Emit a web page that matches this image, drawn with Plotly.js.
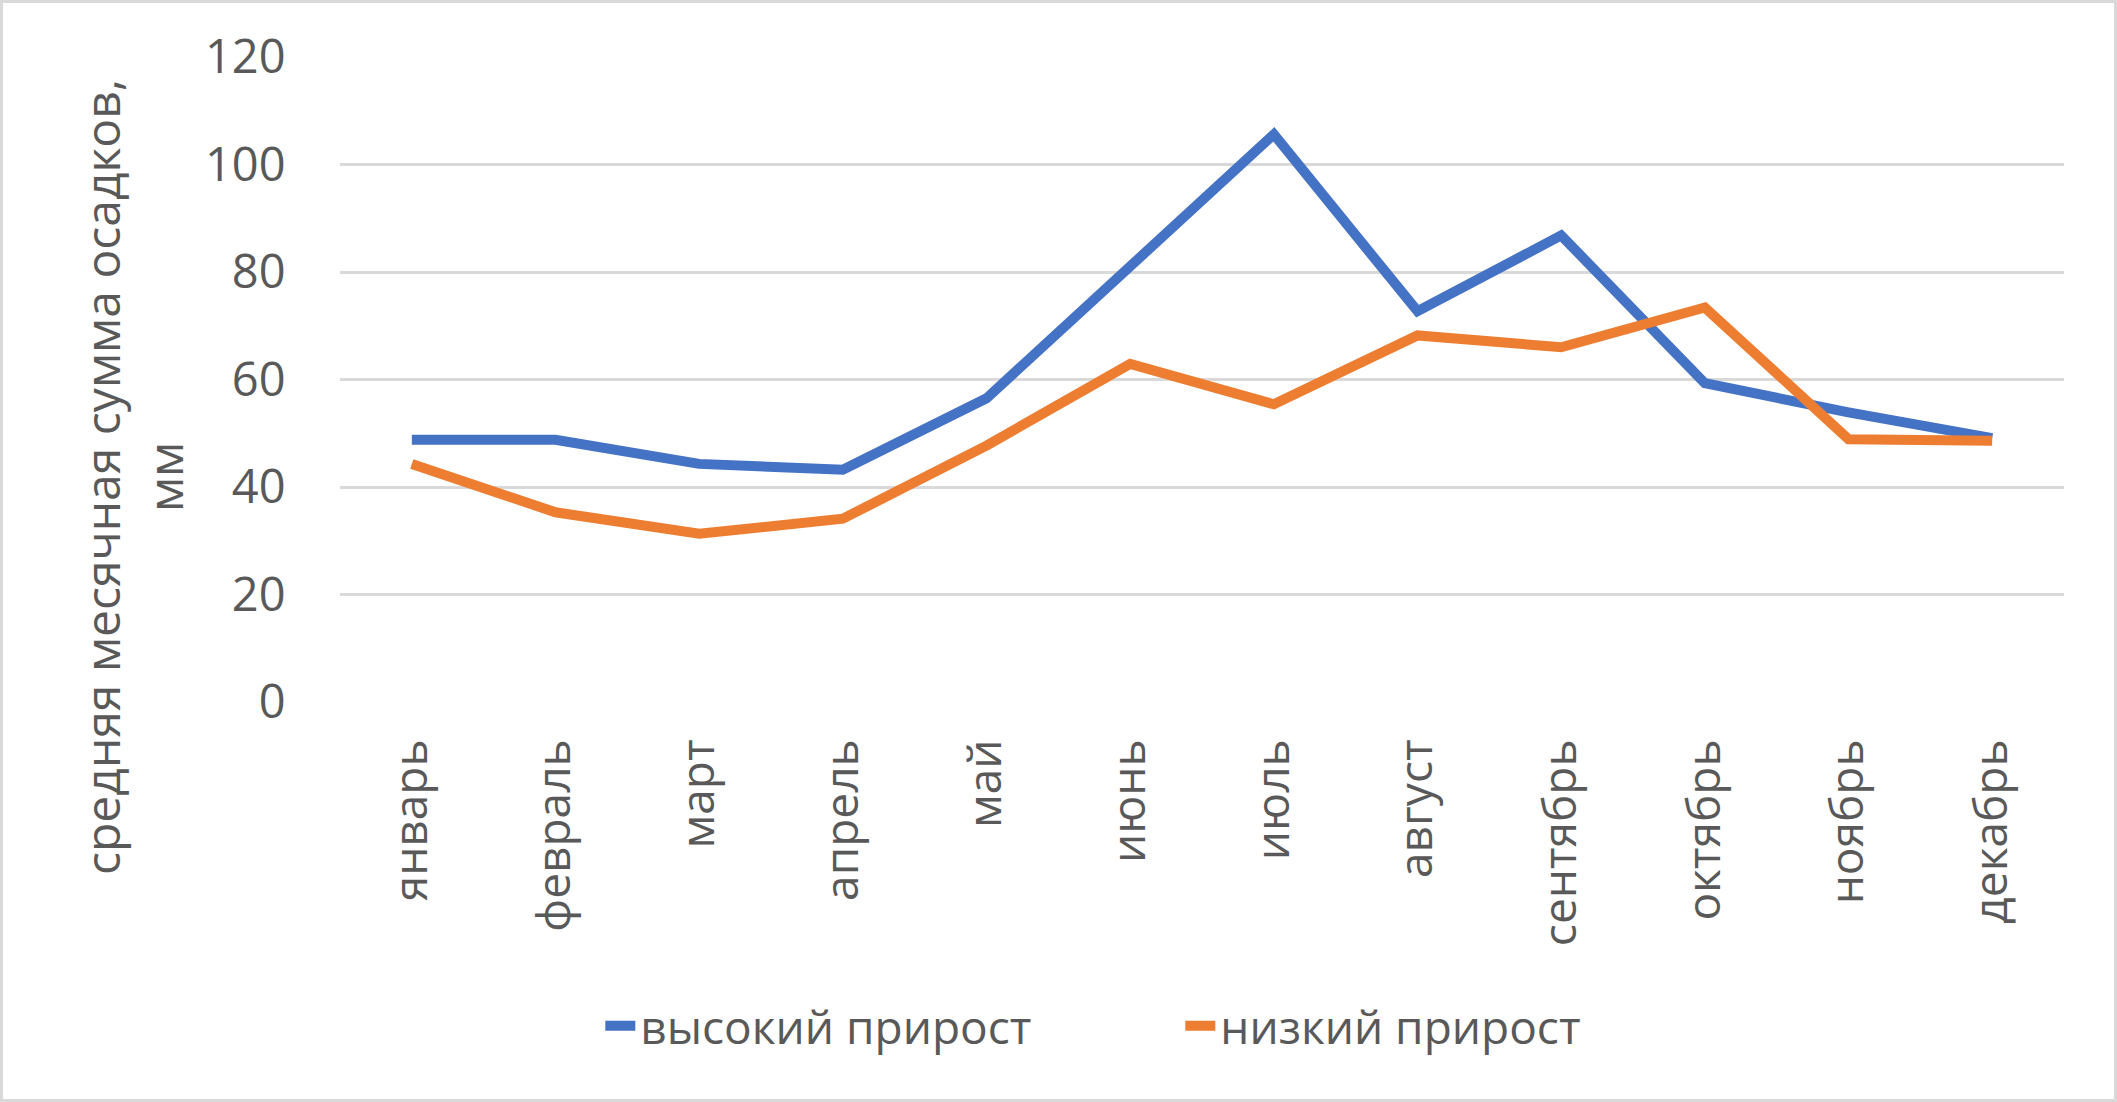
<!DOCTYPE html>
<html>
<head>
<meta charset="utf-8">
<script src="https://cdn.plot.ly/plotly-3.0.1.min.js"></script>
<style>
  html, body { margin: 0; padding: 0; background: #fff; }
  #wrap { position: relative; width: 2117px; height: 1102px; }
  #chart { width: 2117px; height: 1102px; }
  #frame { position: absolute; left: 0; top: 0; width: 2117px; height: 1102px; box-sizing: border-box; border: 3px solid #d9d9d9; pointer-events: none; }
</style>
</head>
<body>
<div id="wrap"><div id="chart"></div><div id="frame"></div></div>
<script>
const months = ["январь", "февраль", "март", "апрель", "май", "июнь", "июль", "август", "сентябрь", "октябрь", "ноябрь", "декабрь"];
const highGrowth = [48.8, 48.8, 44.3, 43.2, 56.5, 81.1, 105.6, 72.7, 86.8, 59.3, 53.9, 49.1];
const lowGrowth = [44.3, 35.3, 31.3, 34.1, 47.7, 62.9, 55.4, 68.2, 66.0, 73.4, 48.9, 48.6];
const seriesNames = ["высокий прирост", "низкий прирост"];
const yTitle = "средняя месячная сумма осадков,<br>мм";
const yTicks = [0, 20, 40, 60, 80, 100, 120];

const FONT = "'Open Sans', 'Noto Sans', sans-serif";
const GREY = "#595959";

const traces = [
  { x: months, y: highGrowth, name: seriesNames[0], type: "scatter", mode: "lines",
    line: { color: "#4472C4", width: 10 } },
  { x: months, y: lowGrowth, name: seriesNames[1], type: "scatter", mode: "lines",
    line: { color: "#ED7D31", width: 10 } }
];

const layout = {
  width: 2117, height: 1102,
  margin: { l: 340, r: 53, t: 57, b: 400 },
  paper_bgcolor: "#fff", plot_bgcolor: "#fff",
  font: { family: FONT, color: GREY, size: 46 },
  showlegend: true,
  legend: {
    orientation: "h", x: 0.151, xanchor: "left", y: -0.502, yanchor: "middle",
    font: { family: FONT, size: 46, color: GREY },
    entrywidth: 535, entrywidthmode: "pixels",
    itemwidth: 30
  },
  xaxis: {
    type: "category", range: [-0.5, 11.5],
    tickangle: -90, tickfont: { family: FONT, size: 46, color: GREY },
    showgrid: false, zeroline: false, showline: false,
    ticks: "outside", ticklen: 18, tickcolor: "rgba(0,0,0,0)"
  },
  yaxis: {
    range: [0, 120], tickvals: yTicks, ticktext: yTicks.map(String),
    tickfont: { family: FONT, size: 47, color: GREY },
    showgrid: true, gridcolor: "#d9d9d9", gridwidth: 3,
    zeroline: false, showline: false,
    ticks: "outside", ticklen: 44, tickcolor: "rgba(0,0,0,0)"
  },
  annotations: [
    { text: yTitle, xref: "paper", yref: "paper", x: -0.12, y: 0.349,
      xanchor: "center", yanchor: "middle", textangle: -90, showarrow: false,
      font: { family: FONT, size: 48, color: GREY } }
  ]
};

Plotly.newPlot("chart", traces, layout, { displayModeBar: false, staticPlot: true });
</script>
</body>
</html>
